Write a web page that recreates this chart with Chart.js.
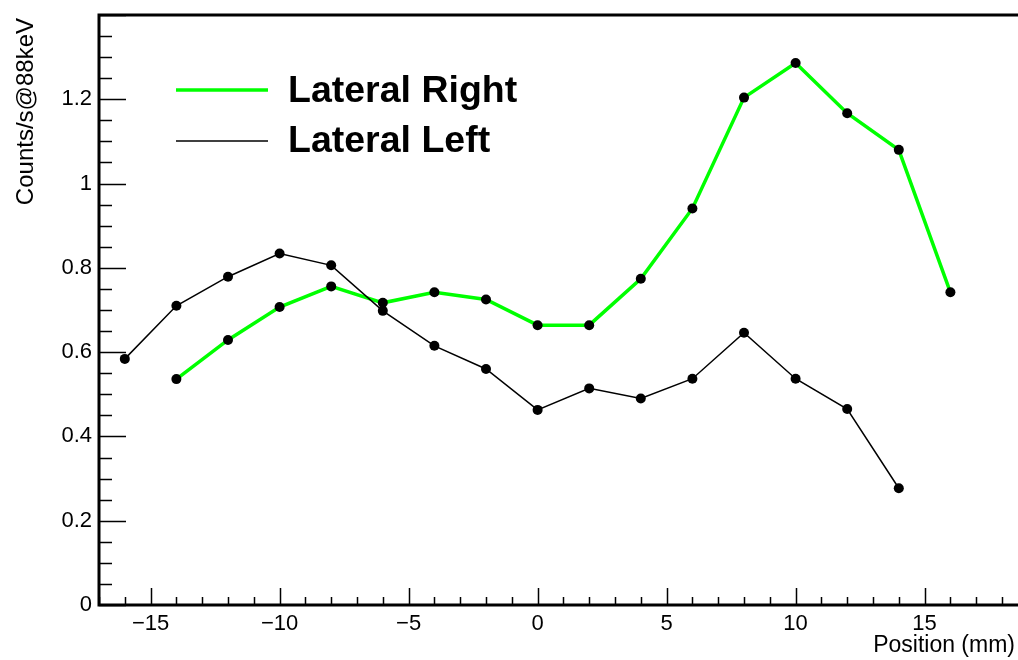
<!DOCTYPE html>
<html>
<head>
<meta charset="utf-8">
<script src="https://cdn.jsdelivr.net/npm/chart.js@4/dist/chart.umd.min.js"></script>
<style>
  html, body { margin: 0; padding: 0; background: #fff; }
  canvas { display: block; }
</style>
</head>
<body>
<canvas id="c" width="1018" height="660"></canvas>
<script>
// Scan positions (mm) and count rates (counts/s at 88 keV)
const positionsLeft  = [-16, -14, -12, -10, -8, -6, -4, -2, 0, 2, 4, 6, 8, 10, 12, 14];
const ratesLeft      = [0.584, 0.710, 0.779, 0.834, 0.806, 0.698, 0.615, 0.560, 0.463, 0.514, 0.490, 0.537, 0.646, 0.537, 0.465, 0.277];
const positionsRight = [-14, -12, -10, -8, -6, -4, -2, 0, 2, 4, 6, 8, 10, 12, 14, 16];
const ratesRight     = [0.536, 0.629, 0.707, 0.756, 0.717, 0.742, 0.725, 0.664, 0.664, 0.774, 0.941, 1.204, 1.286, 1.167, 1.080, 0.742];

const seriesNames = ['Lateral Right', 'Lateral Left'];
const xTickValues = [-15, -10, -5, 0, 5, 10, 15];
const yTickValues = [0, 0.2, 0.4, 0.6, 0.8, 1.0, 1.2];
const xTitle = 'Position (mm)';
const yTitle = 'Counts/s@88keV';

const FONT = '"Liberation Sans", Arial, Helvetica, sans-serif';

function toPoints(xs, ys) { return xs.map((x, i) => ({ x: x, y: ys[i] })); }

// Frame, inward ticks (major + minor), axis titles and legend, ROOT style
const framePlugin = {
  id: 'frame',
  afterDraw(chart) {
    const ctx = chart.ctx;
    const a = chart.chartArea;
    const xs = chart.scales.x, ys = chart.scales.y;
    ctx.save();
    ctx.strokeStyle = '#000';

    // ticks
    ctx.lineWidth = 1.5;
    ctx.beginPath();
    for (let v = -17; v <= 18; v++) {
      const px = Math.round(xs.getPixelForValue(v)) + 0.5;
      const len = (v % 5 === 0) ? 17 : 8;
      ctx.moveTo(px, a.bottom);
      ctx.lineTo(px, a.bottom - len);
    }
    for (let k = 0; k <= 28; k++) {
      const py = Math.round(ys.getPixelForValue(k * 0.05)) + 0.5;
      const len = (k % 4 === 0) ? 27 : 13;
      ctx.moveTo(a.left, py);
      ctx.lineTo(a.left + len, py);
    }
    ctx.stroke();

    // frame lines (left, bottom, top)
    ctx.lineWidth = 3;
    ctx.beginPath();
    ctx.moveTo(a.left, a.top);
    ctx.lineTo(a.right, a.top);
    ctx.moveTo(a.left, a.top - 1.5);
    ctx.lineTo(a.left, a.bottom + 1.5);
    ctx.moveTo(a.left, a.bottom);
    ctx.lineTo(a.right, a.bottom);
    ctx.stroke();

    // axis titles
    ctx.fillStyle = '#000';
    ctx.font = '23px ' + FONT;
    ctx.textAlign = 'right';
    ctx.textBaseline = 'alphabetic';
    ctx.fillText(xTitle, 1015, 652);
    ctx.save();
    ctx.font = '24px ' + FONT;
    ctx.translate(33, 18);
    ctx.rotate(-Math.PI / 2);
    ctx.fillText(yTitle, 0, 0);
    ctx.restore();

    // legend
    const ds = chart.data.datasets;
    const rows = [
      { d: ds[0], y: 90, base: 102 },
      { d: ds[1], y: 141, base: 152 }
    ];
    ctx.font = 'bold 37.5px ' + FONT;
    ctx.textAlign = 'left';
    rows.forEach(r => {
      ctx.strokeStyle = r.d.borderColor;
      ctx.lineWidth = r.d.borderWidth;
      ctx.beginPath();
      ctx.moveTo(176, r.y);
      ctx.lineTo(268, r.y);
      ctx.stroke();
      ctx.fillStyle = '#000';
      ctx.fillText(r.d.label, 288, r.base);
    });
    ctx.restore();
  }
};

new Chart(document.getElementById('c'), {
  type: 'line',
  data: {
    datasets: [
      {
        label: seriesNames[0],
        data: toPoints(positionsRight, ratesRight),
        borderColor: '#00ff00',
        borderWidth: 3.5,
        pointRadius: 5,
        pointBackgroundColor: '#000',
        pointBorderWidth: 0,
        tension: 0,
        order: 2
      },
      {
        label: seriesNames[1],
        data: toPoints(positionsLeft, ratesLeft),
        borderColor: '#000000',
        borderWidth: 1.5,
        pointRadius: 5,
        pointBackgroundColor: '#000',
        pointBorderWidth: 0,
        tension: 0,
        order: 1
      }
    ]
  },
  options: {
    responsive: false,
    animation: false,
    layout: { autoPadding: false, padding: { top: 15, right: 0, left: 0, bottom: 0 } },
    plugins: { legend: { display: false }, tooltip: { enabled: false } },
    scales: {
      x: {
        type: 'linear',
        min: -17,
        max: 18.62,
        grid: { display: false, drawTicks: false },
        border: { display: false },
        afterBuildTicks(scale) { scale.ticks = xTickValues.map(v => ({ value: v })); },
        afterFit(scale) {
          scale.height = 55;
          scale.paddingLeft = 0;
          scale.paddingRight = 0;
        },
        ticks: {
          padding: 6,
          color: '#000',
          font: { family: FONT, size: 22 },
          maxRotation: 0,
          autoSkip: false,
          callback: v => (v < 0 ? '\u2212' + Math.abs(v) : String(v))
        }
      },
      y: {
        type: 'linear',
        min: 0,
        max: 1.4,
        grid: { display: false, drawTicks: false },
        border: { display: false },
        afterBuildTicks(scale) { scale.ticks = yTickValues.map(v => ({ value: v })); },
        afterFit(scale) {
          scale.width = 99;
          scale.paddingTop = 0;
          scale.paddingBottom = 0;
        },
        ticks: {
          padding: 7,
          color: '#000',
          font: { family: FONT, size: 22 },
          autoSkip: false,
          callback: v => String(Number(v.toFixed(1)))
        }
      }
    }
  },
  plugins: [framePlugin]
});
</script>
</body>
</html>
